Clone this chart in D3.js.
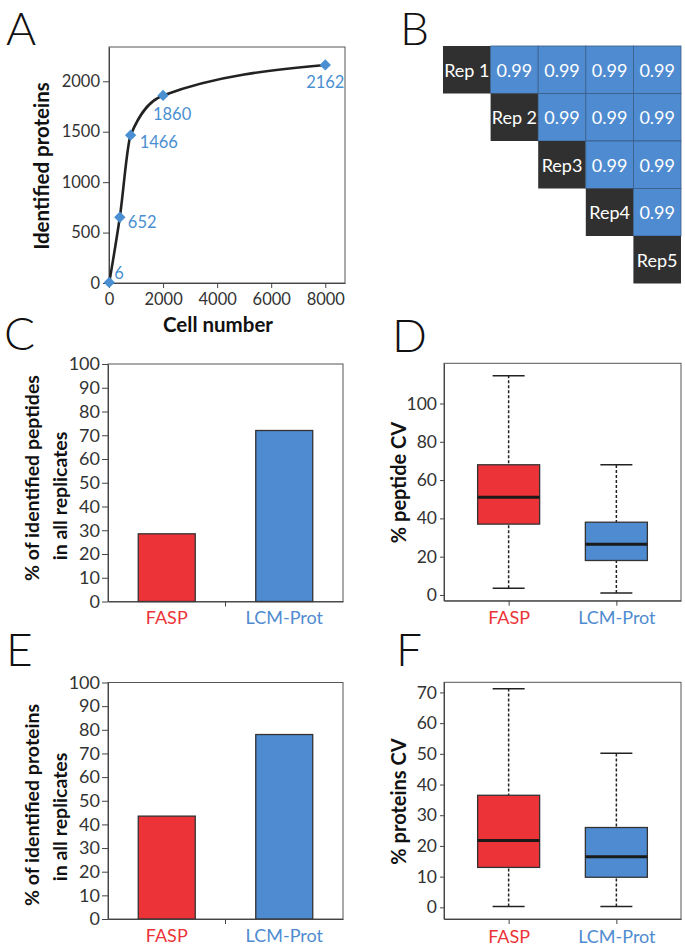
<!DOCTYPE html>
<html><head><meta charset="utf-8">
<script src="https://cdn.jsdelivr.net/npm/d3@7"></script>
<style>
body{margin:0;background:#fff;}
svg{display:block;font-family:Lato,"Open Sans",sans-serif;}
</style>
</head><body>
<svg id="chart" width="685" height="946"></svg>
<script>
// ---------------- DATA ----------------
// Panel A
const cellNumbers = [10, 400, 800, 2000, 8000];
const identifiedProteins = [6, 652, 1466, 1860, 2162];
const cellTicks = [0, 2000, 4000, 6000, 8000];
const proteinTicks = [0, 500, 1000, 1500, 2000];
// Panel B
const replicates = ["Rep 1", "Rep 2", "Rep3", "Rep4", "Rep5"];
const correlations = [
  [null, 0.99, 0.99, 0.99, 0.99],
  [null, null, 0.99, 0.99, 0.99],
  [null, null, null, 0.99, 0.99],
  [null, null, null, null, 0.99],
  [null, null, null, null, null]
];
// Panels C-F
const methods = ["FASP", "LCM-Prot"];
const peptidesInAllReps = [28.5, 72];
const proteinsInAllReps = [43.5, 78];
const percentTicks = [0, 10, 20, 30, 40, 50, 60, 70, 80, 90, 100];
// box stats: [min, q1, median, q3, max]
const peptideCV = [[3.5, 37, 51, 68, 114.5], [1, 18, 26.5, 38, 68]];
const proteinCV = [[0.3, 13, 21.8, 36.5, 71.2], [0.3, 9.8, 16.5, 26, 50.2]];
const peptideCVTicks = [0, 20, 40, 60, 80, 100];
const proteinCVTicks = [0, 10, 20, 30, 40, 50, 60, 70];

// ---------------- STYLE ----------------
const RED = "#ec3338", BLUE = "#4f8bd0", ABLUE = "#4a8fd1", DARK = "#303030";
const methodColors = [RED, BLUE];
const svg = d3.select("#chart");
const fmt = d3.format("d");

function letter(t, x, y) {
  svg.append("text").attr("x", x).attr("y", y).text(t)
    .attr("font-size", 46).attr("font-weight", 300).attr("fill", "#111");
}
function frame(x0, y0, x1, y1) {
  svg.append("rect").attr("x", x0).attr("y", y0).attr("width", x1 - x0).attr("height", y1 - y0)
    .attr("fill", "none").attr("stroke", "#555").attr("stroke-width", 1);
}
function styleAxis(g, fs) {
  g.select(".domain").attr("stroke", "#444");
  g.selectAll(".tick line").attr("stroke", "#444");
  g.selectAll(".tick text").attr("font-size", fs).attr("fill", "#333").attr("font-family", "Lato,'Open Sans',sans-serif");
}
function yTitle(lines, x, ys, fs) {
  lines.forEach((l, i) => {
    svg.append("text").attr("transform", `translate(${x[i]},${ys[i]}) rotate(-90)`)
      .attr("text-anchor", "middle").attr("dominant-baseline", "central")
      .attr("font-size", fs).attr("font-weight", 700).attr("fill", "#111").text(l);
  });
}

// ---------------- PANEL A ----------------
letter("A", 6, 45);
{
  const L = 109, R = 345, T = 47, B = 283;
  const x = d3.scaleLinear().domain([0, 8730]).range([L, R]);
  const y = d3.scaleLinear().domain([0, 2340]).range([B, T]);
  frame(L, T, R, B);
  const gx = svg.append("g").attr("transform", `translate(0,${B})`)
    .call(d3.axisBottom(x).tickValues(cellTicks).tickFormat(fmt).tickSize(5).tickSizeOuter(0).tickPadding(5));
  styleAxis(gx, 16.5);
  const gy = svg.append("g").attr("transform", `translate(${L},0)`)
    .call(d3.axisLeft(y).tickValues(proteinTicks).tickFormat(fmt).tickSize(6).tickSizeOuter(0).tickPadding(3));
  styleAxis(gy, 16.5);
  const pts = cellNumbers.map((c, i) => [c, identifiedProteins[i]]);
  svg.append("path").datum(pts)
    .attr("d", d3.line().x(d => x(d[0])).y(d => y(d[1])).curve(d3.curveMonotoneX))
    .attr("fill", "none").attr("stroke", "#222").attr("stroke-width", 2.6);
  svg.selectAll(".dia").data(pts).join("path")
    .attr("transform", d => `translate(${x(d[0])},${y(d[1])}) rotate(45)`)
    .attr("d", "M-4,-4H4V4H-4Z").attr("fill", ABLUE);
  const off = [[5, -9, "start"], [8, 5, "start"], [9, 7, "start"], [9, 19, "middle"], [0, 17, "middle"]];
  svg.selectAll(".lab").data(pts).join("text")
    .attr("x", (d, i) => x(d[0]) + off[i][0]).attr("y", (d, i) => y(d[1]) + off[i][1])
    .attr("text-anchor", (d, i) => off[i][2]).attr("dominant-baseline", "central")
    .attr("font-size", 16.5).attr("fill", ABLUE).text(d => d[1]);
  yTitle(["Identified proteins"], [41], [166], 20.5);
  svg.append("text").attr("x", 218).attr("y", 324).attr("text-anchor", "middle")
    .attr("dominant-baseline", "central").attr("font-size", 20.5).attr("font-weight", 700)
    .attr("fill", "#111").text("Cell number");
}

// ---------------- PANEL B ----------------
letter("B", 400, 45);
{
  const x = d3.scaleBand().domain(replicates).range([443, 681]);
  const y = d3.scaleBand().domain(replicates).range([46, 283.5]);
  const cells = [];
  replicates.forEach((r, i) => replicates.forEach((c, j) => {
    if (j === i) cells.push({ r, c, diag: true, t: r });
    else if (j > i && correlations[i][j] != null) cells.push({ r, c, diag: false, t: d3.format(".2f")(correlations[i][j]) });
  }));
  const g = svg.append("g");
  g.selectAll("rect").data(cells).join("rect")
    .attr("x", d => x(d.c)).attr("y", d => y(d.r)).attr("width", x.bandwidth()).attr("height", y.bandwidth())
    .attr("fill", d => d.diag ? DARK : BLUE)
    .attr("stroke", d => d.diag ? "none" : "#3a5e88").attr("stroke-width", 0.8);
  g.selectAll("text").data(cells).join("text")
    .attr("x", d => x(d.c) + x.bandwidth() / 2).attr("y", d => y(d.r) + y.bandwidth() / 2)
    .attr("text-anchor", "middle").attr("dominant-baseline", "central")
    .attr("font-size", 18).attr("fill", "#fff").text(d => d.t);
}

// ---------------- PANELS C & E ----------------
function barPanel(vals, T, B, titleLines, titleYs) {
  const L = 108, R = 343;
  const x = d3.scaleBand().domain(methods).range([L, R]).paddingInner(0.515).paddingOuter(0.2575);
  const y = d3.scaleLinear().domain([0, 100]).range([B, T]);
  frame(L, T, R, B);
  svg.append("g").selectAll("rect").data(vals).join("rect")
    .attr("x", (d, i) => x(methods[i])).attr("y", d => y(d))
    .attr("width", x.bandwidth()).attr("height", d => y(0) - y(d))
    .attr("fill", (d, i) => methodColors[i]).attr("stroke", "#333").attr("stroke-width", 1.3);
  const gy = svg.append("g").attr("transform", `translate(${L},0)`)
    .call(d3.axisLeft(y).tickValues(percentTicks).tickFormat(fmt).tickSize(6).tickSizeOuter(0).tickPadding(2));
  styleAxis(gy, 18);
  const gx = svg.append("g").attr("transform", `translate(0,${B})`)
    .call(d3.axisBottom(x).tickSize(0).tickSizeOuter(0).tickPadding(10));
  styleAxis(gx, 18);
  gx.selectAll(".tick text").attr("fill", (d, i) => methodColors[i]);
  const mid = (x(methods[0]) + x.bandwidth() + x(methods[1])) / 2;
  gx.append("line").attr("x1", mid).attr("x2", mid).attr("y1", 0).attr("y2", 5).attr("stroke", "#444");
  yTitle(titleLines, [31, 59], titleYs, 19.5);
}
letter("C", 4, 350);
barPanel(peptidesInAllReps, 364, 601.5, ["% of identified peptides", "in all replicates"], [478, 496]);
letter("E", 6, 666);
barPanel(proteinsInAllReps, 682.5, 919, ["% of identified proteins", "in all replicates"], [805, 817]);

// ---------------- PANELS D & F ----------------
function boxPanel(stats, ticks, dom, T, B, title, titleY) {
  const L = 444, R = 681;
  const x = d3.scalePoint().domain(methods).range([L, R]).padding(0.6);
  const y = d3.scaleLinear().domain(dom).range([B, T]);
  frame(L, T, R, B);
  const gy = svg.append("g").attr("transform", `translate(${L},0)`)
    .call(d3.axisLeft(y).tickValues(ticks).tickFormat(fmt).tickSize(4).tickSizeOuter(0).tickPadding(3));
  styleAxis(gy, 17.5);
  const gx = svg.append("g").attr("transform", `translate(0,${B})`)
    .call(d3.axisBottom(x).tickSize(5).tickSizeOuter(0).tickPadding(6));
  styleAxis(gx, 18);
  gx.selectAll(".tick text").attr("fill", (d, i) => methodColors[i]);
  const bw = 62, cw = 32;
  const g = svg.append("g");
  stats.forEach((s, i) => {
    const cx = x(methods[i]);
    g.append("line").attr("x1", cx).attr("x2", cx).attr("y1", y(s[0])).attr("y2", y(s[4]))
      .attr("stroke", "#222").attr("stroke-width", 1.5).attr("stroke-dasharray", "3,2");
    [s[0], s[4]].forEach(v => g.append("line").attr("x1", cx - cw / 2).attr("x2", cx + cw / 2)
      .attr("y1", y(v)).attr("y2", y(v)).attr("stroke", "#222").attr("stroke-width", 1.5));
    g.append("rect").attr("x", cx - bw / 2).attr("width", bw).attr("y", y(s[3])).attr("height", y(s[1]) - y(s[3]))
      .attr("fill", methodColors[i]).attr("stroke", "#333").attr("stroke-width", 1.3);
    g.append("line").attr("x1", cx - bw / 2).attr("x2", cx + bw / 2).attr("y1", y(s[2])).attr("y2", y(s[2]))
      .attr("stroke", "#1a1a1a").attr("stroke-width", 3);
  });
  yTitle([title], [398], [titleY], 20);
}
letter("D", 392, 352);
boxPanel(peptideCV, peptideCVTicks, [-3, 121], 363.3, 600.7, "% peptide CV", 482.5);
letter("F", 396, 666);
boxPanel(proteinCV, proteinCVTicks, [-3.8, 73.3], 682.3, 919, "% proteins CV", 801.5);
</script>
</body></html>
